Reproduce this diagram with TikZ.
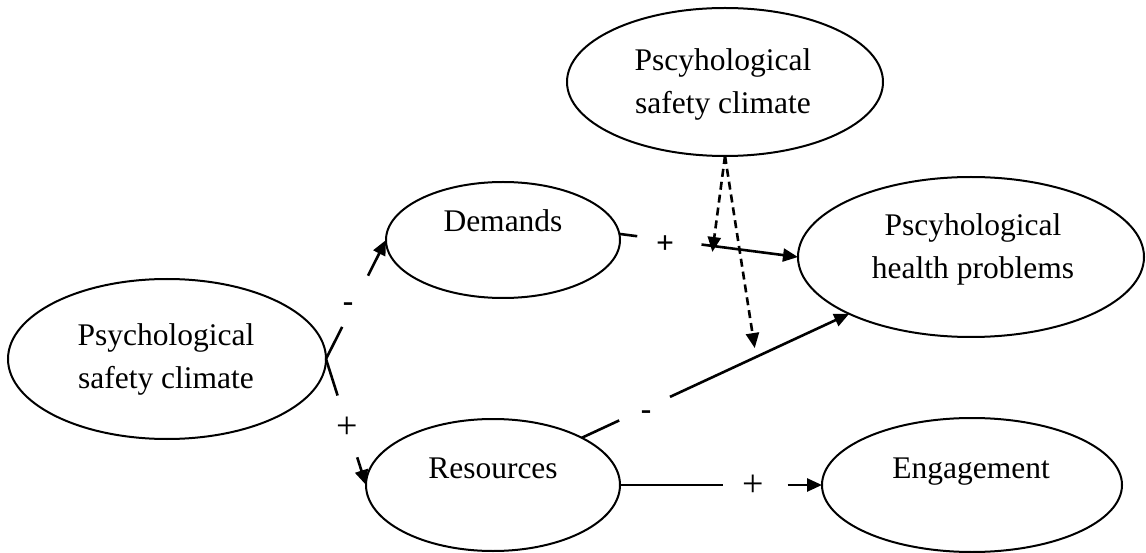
\documentclass[tikz,border=0pt]{standalone}
\usepackage{fontspec}
\setmainfont{Liberation Serif}
\usetikzlibrary{shapes.geometric,arrows.meta,calc}
\begin{document}
\begin{tikzpicture}[x=1pt,y=-1pt,
  ell/.style={draw=black,line width=2pt,ellipse,inner sep=0pt,outer sep=0pt},
  txt/.style={font=\fontsize{31.5}{43}\selectfont,align=center,inner sep=0pt},
  lbl/.style={font=\fontsize{31.5}{43}\selectfont,inner sep=0pt,anchor=base},
  biglbl/.style={font=\fontsize{38}{43}\selectfont,inner sep=0pt,anchor=base},
  conn/.style={line width=2.6pt},
  tip/.style={-{Triangle[length=15pt,width=13pt]}},
  dconn/.style={line width=2.6pt,dash pattern=on 8pt off 5pt,-{Triangle[length=15pt,width=13pt]}}
]
\useasboundingbox (0,0) rectangle (1146,553);
% ellipses
\node[ell,minimum width=318pt,minimum height=160pt] (L) at (167,359) {};
\node[ell,minimum width=234pt,minimum height=116pt] (D) at (503,240) {};
\node[ell,minimum width=316pt,minimum height=148pt] (T) at (725,82) {};
\node[ell,minimum width=346pt,minimum height=160pt] (H) at (971,257) {};
\node[ell,minimum width=254pt,minimum height=132pt] (R) at (493,485) {};
\node[ell,minimum width=300pt,minimum height=134pt] (E) at (972,485) {};
% texts
\node[txt] (Lt) at (166,359) {Psychological\\safety climate};
\node[txt] (Tt) at (723,84) {Pscyhological\\safety climate};
\node[txt] (Ht) at (973,249) {Pscyhological\\health problems};
\node[lbl] (Dt) at (503,232) {Demands};
\node[lbl] (Rt) at (493,478) {Resources};
\node[lbl] (Et) at (971,478) {Engagement};
% L -> D
\draw[conn] (L.east) -- ($(L.east)!0.27!(D.west)$);
\draw[conn,tip] ($(L.east)!0.70!(D.west)$) -- (D.west);
\node[lbl] (m1) at (348,312) {\textbf{-}};
% L -> R
\draw[conn] (L.east) -- ($(L.east)!0.29!(R.west)$);
\draw[conn,tip] ($(L.east)!0.78!(R.west)$) -- (R.west);
\node[biglbl] (p1) at (347,438) {+};
% D -> H
\draw[conn] (D.3) -- ($(D.3)!0.10!(H.west)$);
\draw[conn,tip] ($(D.3)!0.46!(H.west)$) -- (H.west);
\node[lbl] (p2) at (665,254) {\textbf{+}};
% R -> H
\draw[conn] (R.28) -- ($(R.28)!0.14!(H.205)$);
\draw[conn,tip] ($(R.28)!0.33!(H.205)$) -- (H.205);
\node[lbl] (m2) at (646,419) {\textbf{-}};
% R -> E
\draw[conn] (R.east) -- ($(R.east)!0.51!(E.west)$);
\draw[conn,tip] ($(R.east)!0.83!(E.west)$) -- (E.west);
\node[biglbl] (p3) at (753,496) {+};
% moderator dashed arrows
\coordinate (c1) at ($(D.3)!0.525!(H.west)$);
\coordinate (c2) at ($(R.28)!0.652!(H.205)$);
\draw[dconn,shorten >=-6pt] (T.south) -- (c1);
\draw[dconn,shorten >=9pt] (T.south) -- (c2);
\end{tikzpicture}
\end{document}
